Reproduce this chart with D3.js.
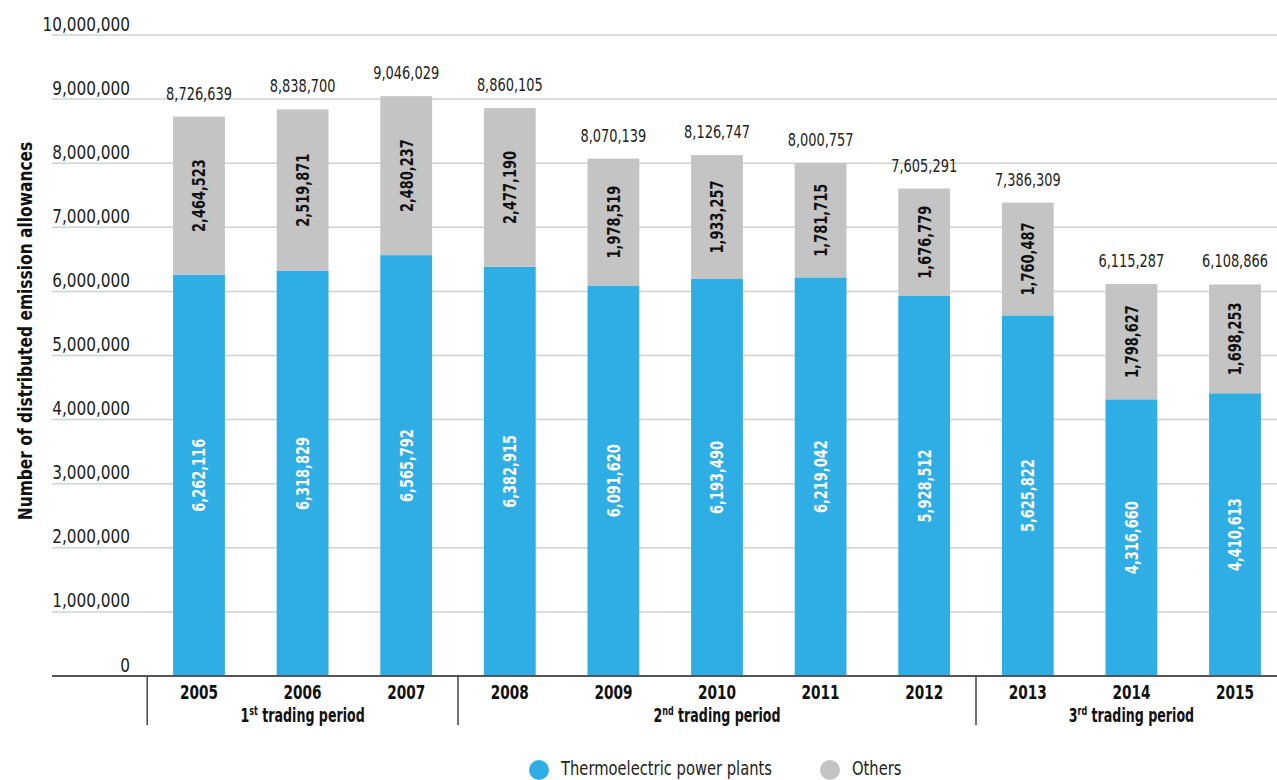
<!DOCTYPE html>
<html>
<head>
<meta charset="utf-8">
<script src="https://cdn.jsdelivr.net/npm/d3@7/dist/d3.min.js"></script>
<style>
  html, body { margin: 0; padding: 0; background: #fff; }
  svg { display: block; }
  text { font-family: "Liberation Sans Narrow", "DejaVu Sans Condensed", "Roboto", sans-serif; }
</style>
</head>
<body>
<svg id="chart" width="1277" height="780"></svg>
<script>
// Distributed emission allowances per year, split by installation type
const years = ["2005", "2006", "2007", "2008", "2009", "2010", "2011", "2012", "2013", "2014", "2015"];
const thermoelectric = [6262116, 6318829, 6565792, 6382915, 6091620, 6193490, 6219042, 5928512, 5625822, 4316660, 4410613];
const others = [2464523, 2519871, 2480237, 2477190, 1978519, 1933257, 1781715, 1676779, 1760487, 1798627, 1698253];
const totals = [8726639, 8838700, 9046029, 8860105, 8070139, 8126747, 8000757, 7605291, 7386309, 6115287, 6108866];
const yTicks = [0, 1000000, 2000000, 3000000, 4000000, 5000000, 6000000, 7000000, 8000000, 9000000, 10000000];
const periods = [
  { ord: "1", sup: "st", first: "2005", last: "2007" },
  { ord: "2", sup: "nd", first: "2008", last: "2012" },
  { ord: "3", sup: "rd", first: "2013", last: "2015" }
];
const seriesNames = ["Thermoelectric power plants", "Others"];
const colors = { thermo: "#2eaee5", others: "#c4c4c4" };

const svg = d3.select("#chart");
const fmt = d3.format(",");
const NARROW = 0.8; // horizontal squeeze for a condensed look

const x = d3.scaleBand().domain(years).range([147.2, 1286.8]).paddingInner(0.5).paddingOuter(0.25);
const y = d3.scaleLinear().domain([0, 10000000]).range([676, 35]);
const step = x.step();

// gridlines
svg.append("g").selectAll("line").data(yTicks.filter(d => d > 0)).join("line")
  .attr("x1", 52).attr("x2", 1277)
  .attr("y1", d => y(d)).attr("y2", d => y(d))
  .attr("stroke", "#d0d0d0").attr("stroke-width", 1.5);

// y labels sit just above their gridline
const yAxis = d3.axisLeft(y).tickValues(yTicks).tickFormat(fmt).tickSize(0);
const gy = svg.append("g").attr("transform", "translate(130,0)").call(yAxis);
gy.select(".domain").remove();
gy.attr("font-family", null).attr("font-size", null);
gy.selectAll("text")
  .attr("x", 0).attr("dy", -5)
  .attr("transform", "scale(0.85,1)")
  .attr("font-size", 20).attr("fill", "#222");

// stacked bars
const rows = years.map((yr, i) => ({ yr, thermo: thermoelectric[i], others: others[i], total: totals[i] }));
const cx = d => x(d.yr) + x.bandwidth() / 2;
const bars = svg.append("g").selectAll("g").data(rows).join("g");
bars.append("rect")
  .attr("x", d => x(d.yr)).attr("width", x.bandwidth())
  .attr("y", d => y(d.thermo)).attr("height", d => y(0) - y(d.thermo))
  .attr("fill", colors.thermo);
bars.append("rect")
  .attr("x", d => x(d.yr)).attr("width", x.bandwidth())
  .attr("y", d => y(d.thermo + d.others)).attr("height", d => y(d.thermo) - y(d.thermo + d.others))
  .attr("fill", colors.others);

// values inside segments
bars.append("text")
  .attr("transform", d => `translate(${cx(d)},${(y(0) + y(d.thermo)) / 2}) rotate(-90) scale(${NARROW},1)`)
  .attr("text-anchor", "middle").attr("dy", "0.36em")
  .attr("font-size", 18).attr("font-weight", "bold").attr("fill", "#fff")
  .text(d => fmt(d.thermo));
bars.append("text")
  .attr("transform", d => `translate(${cx(d)},${(y(d.thermo) + y(d.thermo + d.others)) / 2}) rotate(-90) scale(${NARROW},1)`)
  .attr("text-anchor", "middle").attr("dy", "0.36em")
  .attr("font-size", 18).attr("font-weight", "bold").attr("fill", "#111")
  .text(d => fmt(d.others));

// totals above bars
bars.append("text")
  .attr("transform", d => `translate(${cx(d)},${y(d.total) - 17}) scale(${NARROW},1)`)
  .attr("text-anchor", "middle")
  .attr("font-size", 18).attr("fill", "#222")
  .text(d => fmt(d.total));

// baseline
svg.append("line").attr("x1", 52).attr("x2", 1277).attr("y1", y(0)).attr("y2", y(0))
  .attr("stroke", "#555").attr("stroke-width", 2);

// year labels
svg.append("g").selectAll("text").data(years).join("text")
  .attr("transform", d => `translate(${x(d) + x.bandwidth() / 2},699) scale(${NARROW},1)`)
  .attr("text-anchor", "middle").attr("font-size", 19).attr("font-weight", "bold").attr("fill", "#111")
  .text(d => d);

// trading period separators and labels
const edgeLeft = d => x(d) - step * x.paddingInner() / 2;
const edgeRight = d => x(d) + x.bandwidth() + step * x.paddingInner() / 2;
svg.append("g").selectAll("line").data(periods).join("line")
  .attr("x1", d => edgeLeft(d.first)).attr("x2", d => edgeLeft(d.first))
  .attr("y1", y(0)).attr("y2", 725)
  .attr("stroke", "#444").attr("stroke-width", 1.5);

const pl = svg.append("g").selectAll("text").data(periods).join("text")
  .attr("transform", d => `translate(${(edgeLeft(d.first) + edgeRight(d.last)) / 2},722) scale(0.74,1)`)
  .attr("text-anchor", "middle").attr("font-size", 19).attr("font-weight", "bold").attr("fill", "#111");
pl.append("tspan").text(d => d.ord);
pl.append("tspan").attr("font-size", 12).attr("dy", -7).text(d => d.sup);
pl.append("tspan").attr("dy", 7).text(d => " trading period");

// y axis title
svg.append("text")
  .attr("transform", "translate(32,331) rotate(-90) scale(0.86,1)")
  .attr("text-anchor", "middle").attr("font-size", 20).attr("font-weight", "bold").attr("fill", "#111")
  .text("Number of distributed emission allowances");

// legend along the bottom edge
const legend = svg.append("g");
const legendItems = [
  { name: seriesNames[0], color: colors.thermo, cx: 539 },
  { name: seriesNames[1], color: colors.others, cx: 830 }
];
legend.selectAll("circle").data(legendItems).join("circle")
  .attr("cx", d => d.cx).attr("cy", 770).attr("r", 10).attr("fill", d => d.color);
legend.selectAll("text").data(legendItems).join("text")
  .attr("transform", d => `translate(${d.cx + 22},775) scale(0.84,1)`)
  .attr("font-size", 19.5).attr("fill", "#222")
  .text(d => d.name);
</script>
</body>
</html>
